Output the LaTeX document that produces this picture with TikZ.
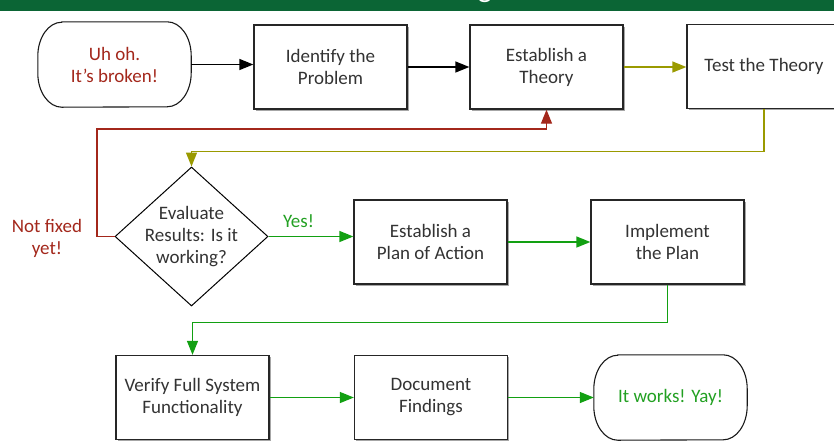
\documentclass[tikz,border=0pt]{standalone}
\usepackage{fontspec}
\setmainfont{Carlito}
\usetikzlibrary{arrows.meta,shapes.geometric,shadows}
\definecolor{banner}{HTML}{0B6535}
\definecolor{txt}{HTML}{333333}
\definecolor{redc}{HTML}{A3271B}
\definecolor{greenc}{HTML}{12A012}
\definecolor{olivec}{HTML}{9A9A00}
\definecolor{greentxt}{HTML}{22A022}
\begin{document}
\begin{tikzpicture}[x=1pt,y=-1pt,
  font=\fontsize{19}{22}\selectfont,
  box/.style={draw=black!85, line width=1.3pt, fill=white,
    minimum width=153pt, minimum height=84pt, align=center, text=txt, inner sep=0pt,
    drop shadow={shadow xshift=1.5pt, shadow yshift=-1.8pt, fill=black, opacity=0.35}},
  term/.style={minimum width=153pt, minimum height=85pt, align=center, inner sep=0pt},
  termline/.style={draw=black!90, line width=1.1pt},
  conn/.style={line width=1.3pt, -{Triangle[length=14pt,width=11pt]}},
  lbl/.style={align=center, inner sep=0pt}]
\useasboundingbox (0,0) rectangle (834,440);
% banner
\begin{scope}
\clip (0,0) rectangle (834,11);
\fill[banner] (0,0) rectangle (834,11);
\node[text=white, font=\fontsize{30}{36}\selectfont, anchor=base, inner sep=0pt] (title) at (485,-3) {g};
\end{scope}
% nodes
\node[term, text=redc] (start) at (114.5,64.5) {Uh oh.\\It's broken!};
\node[box] (identify) at (330.5,67) {Identify the\\Problem};
\node[box] (theory) at (546.5,67) {Establish a\\Theory};
\node[box, minimum width=154pt] (test) at (764,66.5) {Test the Theory};
\node[draw=black, line width=1pt, fill=white, diamond, minimum width=153pt, minimum height=139pt, inner sep=0pt] (eval) at (191.5,236.5) {};
\node[lbl, text=txt] (evaltext) at (eval.center) {Evaluate\\Results: Is it\\working?};
\node[box] (plan) at (430.5,242) {Establish a\\Plan of Action};
\node[box] (implement) at (667.5,242) {Implement\\the Plan};
\node[box] (verify) at (192.5,397.5) {Verify Full System\\Functionality};
\node[box] (document) at (431,397.5) {Document\\Findings};
\node[term, text=greentxt] (works) at (670.5,397.5) {It works! Yay!};
\node[lbl, text=redc] (notfixed) at (47,238) {Not fixed\\yet!};
\node[lbl, text=greentxt] (yes) at (298.5,221) {Yes!};
\coordinate (redturn) at (97,129);
% terminal outlines
\foreach \t in {start,works}{
\draw[termline] ([xshift=24pt]\t.north west) -- ([xshift=-24pt]\t.north east)
  arc[start angle=90,end angle=0,x radius=24pt,y radius=34pt] -- ++(0pt,-17pt)
  arc[start angle=0,end angle=-90,x radius=24pt,y radius=34pt] -- ([xshift=24pt]\t.south west)
  arc[start angle=270,end angle=180,x radius=24pt,y radius=34pt] -- ++(0pt,17pt)
  arc[start angle=180,end angle=90,x radius=24pt,y radius=34pt] -- cycle;
}
% connectors
\draw[conn, black] (start.east) -- (start.east -| identify.west);
\draw[conn, black] (identify.east) -- (theory.west);
\draw[conn, olivec] (theory.east) -- (theory.east -| test.west);
\draw[conn, olivec] (test.south) -- ++(0,42.5) -| (eval.north);
\draw[conn, redc] (eval.west) -| (redturn) -| (theory.south);
\draw[conn, greenc] (eval.east) -- (eval.east -| plan.west);
\draw[conn, greenc] (plan.east) -- (implement.west);
\draw[conn, greenc] (implement.south) -- ++(0,38) -| (verify.north);
\draw[conn, greenc] (verify.east) -- (document.west);
\draw[conn, greenc] (document.east) -- (works.west);
\end{tikzpicture}
\end{document}
